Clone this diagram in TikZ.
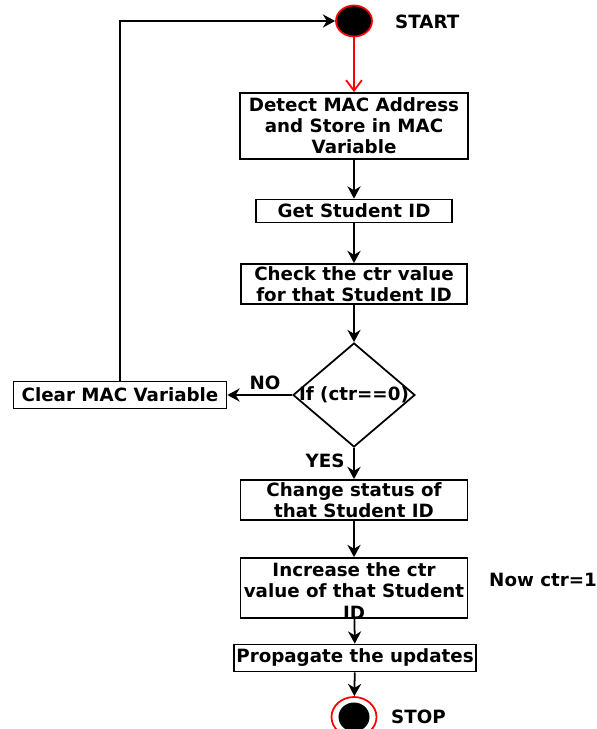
\documentclass[tikz,border=0pt]{standalone}
\usepackage{fontspec}
\setmainfont{DejaVu Sans}
\usetikzlibrary{arrows.meta,shapes.geometric}
\begin{document}
\begin{tikzpicture}[x=0.02cm,y=-0.02cm,
  font=\bfseries\fontsize{10.4}{12}\selectfont,
  box/.style={draw,line width=1pt,align=center,inner sep=0pt},
  flow/.style={draw,line width=1pt,-{Stealth[length=7pt,width=7.5pt]}}]
\useasboundingbox (0,0) rectangle (597,729);
\node[ellipse,draw=red,line width=1pt,fill=black,minimum width=0.72cm,minimum height=0.62cm] (start) at (354,21) {};
\node[anchor=west] (starttext) at (389,22) {START};
\node[box,minimum width=4.56cm,minimum height=1.32cm] (detect) at (354,126) {Detect MAC Address\\and Store in MAC\\Variable};
\node[box,minimum width=3.92cm,minimum height=0.46cm] (getid) at (354,211) {Get Student ID};
\node[box,minimum width=4.52cm,minimum height=0.8cm] (checkctr) at (354,284) {Check the ctr value\\for that Student ID};
\node[diamond,draw,line width=1pt,inner sep=0pt,minimum width=2.44cm,minimum height=2.08cm] (ifctr) at (354,395) {};
\node (iftext) at (ifctr) {If (ctr==0)};
\node[box,minimum width=4.26cm,minimum height=0.54cm] (clearmac) at (120,395) {Clear MAC Variable};
\node (no) at (265,383) {NO};
\node (yes) at (325,461) {YES};
\node[box,minimum width=4.54cm,minimum height=0.8cm] (status) at (354,500) {Change status of\\that Student ID};
\node[box,minimum width=4.54cm,minimum height=1.2cm] (increase) at (354,588) {};
\node[align=center,inner sep=0pt] (increasetext) at (354,591) {Increase the ctr\\value of that Student\\ID};
\node[anchor=west] (nowctr) at (483,580) {Now ctr=1};
\node[box,minimum width=4.84cm,minimum height=0.54cm] (propagate) at (355,658) {Propagate the updates};
\node[ellipse,draw=red,line width=1pt,fill=white,minimum width=0.9cm,minimum height=0.8cm] (stop) at (354,717) {};
\node[ellipse,fill=black,minimum width=0.62cm,minimum height=0.58cm] (stopdot) at (stop) {};
\node[anchor=west] (stoptext) at (385,717) {STOP};

\path[draw=red,line width=1pt,-{Straight Barb[length=6pt,width=9pt]}] (start) -- (detect);
\path[flow] (detect) -- (getid);
\path[flow] (getid) -- (checkctr);
\path[flow] (checkctr) -- (ifctr);
\path[flow] (ifctr.west) -- (clearmac.east);
\path[flow] (clearmac.north) |- (start.west);
\path[flow] (ifctr.south) -- (status);
\path[flow] (status) -- (increase);
\path[flow] (increase) -- (propagate);
\path[flow] (propagate) -- (stop);
\end{tikzpicture}
\end{document}
